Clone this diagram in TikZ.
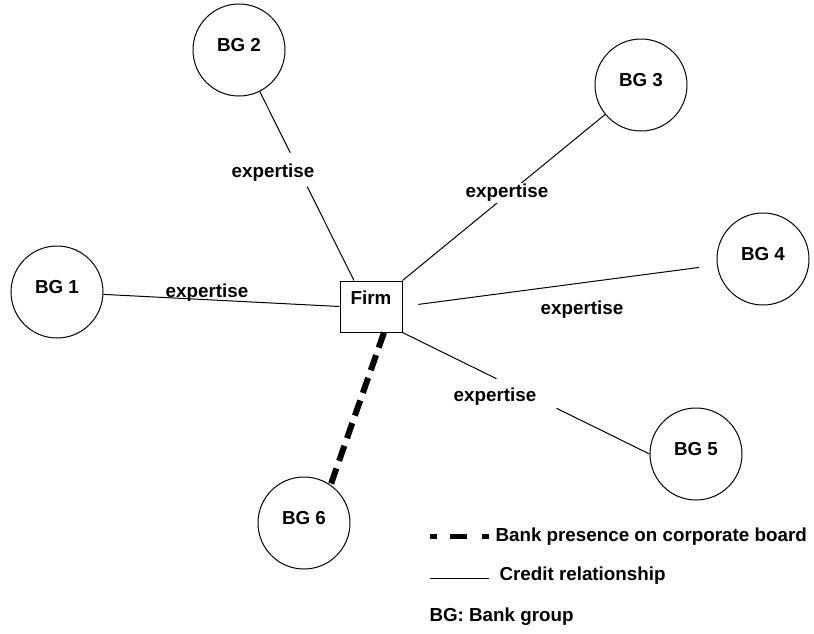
\documentclass[tikz,border=0pt]{standalone}
\usepackage{fontspec}
\setmainfont{Liberation Sans}
\usepackage{tikz}
\usetikzlibrary{calc}
\usetikzlibrary{positioning}

\tikzset{
    bankgroup/.style={draw, circle, minimum size=92pt, inner sep=0pt, text height=13pt, text depth=10pt,
                      font=\fontsize{18.8}{22}\selectfont\bfseries},
    firmbox/.style={draw, rectangle, minimum width=62pt, minimum height=51pt, inner sep=0pt, text height=13pt, text depth=18pt,
                    font=\fontsize{18.8}{22}\selectfont\bfseries},
    lbl/.style={inner sep=1pt, font=\fontsize{18.8}{22}\selectfont\bfseries},
    credit/.style={line width=1pt},
    board/.style={line width=6pt, dash pattern=on 16pt off 8pt},
}

\begin{document}
\begin{tikzpicture}[x=1pt, y=-1pt, line width=1pt]
            \useasboundingbox (0,0) rectangle (814,633);
            % bank groups and the firm
            \node[bankgroup] (bg1)  at ( 57,292) {BG 1};
            \node[bankgroup] (bg2)  at (239, 50) {BG 2};
            \node[bankgroup] (bg3)  at (641, 85) {BG 3};
            \node[bankgroup] (bg4)  at (763,259) {BG 4};
            \node[bankgroup] (bg5)  at (696,454) {BG 5};
            \node[bankgroup] (bg6)  at (304,523) {BG 6};
            \node[firmbox]   (firm) at (371,306.5) {Firm};

            % credit relationships
            \draw[credit] (bg1) -- (firm.west);
            \node[lbl] (ex1) at (207,293) {expertise};

            \coordinate (f2)  at ([xshift=-17pt]firm.north);
            \coordinate (g2a) at ($(bg2)!0.446!(f2)$);
            \coordinate (g2b) at ($(bg2)!0.593!(f2)$);
            \draw[credit] (bg2) -- (g2a);
            \draw[credit] (g2b) -- (f2);
            \node[lbl] (ex2) at (273,173) {expertise};

            \draw[credit] (firm.north east) -- (bg3);
            \node[lbl, fill=white] (ex3) at (507,193) {expertise};

            \draw[credit, shorten <=18pt, shorten >=16pt] (bg4) -- (firm.east);
            \node[lbl] (ex4) at (582,310) {expertise};

            \coordinate (g5a) at ($(firm.south east)!0.38!(bg5.west)$);
            \coordinate (g5b) at ($(firm.south east)!0.624!(bg5.west)$);
            \draw[credit] (firm.south east) -- (g5a);
            \draw[credit] (g5b) -- (bg5.west);
            \node[lbl] (ex5) at (495,397) {expertise};

            % board presence
            \draw[board] ([xshift=13pt]firm.south) -- (bg6.55);

            % legend
            \coordinate (bdA) at (430,536);
            \coordinate (bdB) at (492,536);
            \draw[board, line width=5pt, dash pattern=on 7pt off 13pt on 17pt off 15pt] (bdA) -- (bdB);
            \node[lbl, anchor=west] (bdtxt) at (494,537) {Bank presence on corporate board};
            \coordinate (crA) at (430,578);
            \coordinate (crB) at (489,578);
            \draw[credit] (crA) -- (crB);
            \node[lbl, anchor=west] (crtxt) at (498,576) {Credit relationship};
            \node[lbl, anchor=west] (bgtxt) at (428,617) {BG: Bank group};
\end{tikzpicture}
\end{document}
